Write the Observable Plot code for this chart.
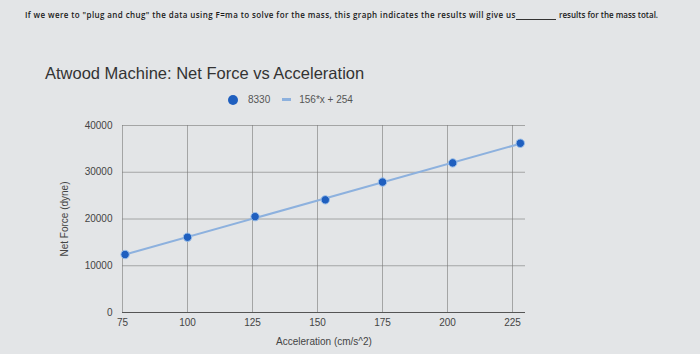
<!DOCTYPE html>
<html>
<head>
<meta charset="utf-8">
<script src="https://cdn.jsdelivr.net/npm/d3@7"></script>
<script src="https://cdn.jsdelivr.net/npm/@observablehq/plot@0.6"></script>
<style>
  body { margin:0; width:700px; height:354px; overflow:hidden; background:#e3e5e7; font-family:"Liberation Sans", Arial, sans-serif; position:relative; }
  .abs { position:absolute; white-space:nowrap; }
  #q1, #q2 { top:9px; font-family:"Open Sans", sans-serif; font-weight:600; font-size:8px; color:#1a1a1a; }
  #q1 { left:25px; letter-spacing:0.4px; }
  #q2 { left:559px; }
  #blank { left:516px; top:19px; width:40px; border-top:1px solid #333; height:0; }
  #title { left:45px; top:64px; font-size:16.5px; color:#333; }
  #legend { left:228px; top:94px; font-size:10px; color:#555; display:flex; align-items:center; }
  #chart { position:absolute; left:0; top:110px; }
</style>
</head>
<body>
<div class="abs" id="q1">If we were to "plug and chug" the data using F=ma to solve for the mass, this graph indicates the results will give us</div>
<div class="abs" id="blank"></div>
<div class="abs" id="q2">results for the mass total.</div>
<div class="abs" id="title">Atwood Machine: Net Force vs Acceleration</div>
<div class="abs" id="legend"></div>
<div id="chart"></div>
<script>
const seriesName = "8330";
const trendLabel = "156*x + 254";
const acceleration = [76, 100, 126, 153, 175, 202, 228];
const netForce = [12400, 16100, 20500, 24100, 27900, 32000, 36200];
const xTicks = [75, 100, 125, 150, 175, 200, 225];
const yTicks = [0, 10000, 20000, 30000, 40000];

const data = acceleration.map((a, i) => ({a, f: netForce[i]}));
const dotColor = "#1f5fbf";
const lineColor = "#8db1de";

const legend = document.getElementById("legend");
legend.innerHTML = `<span style="display:inline-block;width:10px;height:10px;border-radius:50%;background:${dotColor};margin-right:10px"></span>` +
  `<span>${seriesName}</span>` +
  `<span style="display:inline-block;width:9px;height:3px;background:${lineColor};margin:0 8px 0 12px"></span>` +
  `<span>${trendLabel}</span>`;

const chart = Plot.plot({
  width: 700,
  height: 244,
  marginLeft: 122,
  marginRight: 175,
  marginTop: 15,
  marginBottom: 42,
  style: {background: "transparent", fontFamily: "Liberation Sans, Arial, sans-serif", fontSize: "10px", color: "#444"},
  x: {domain: [75, 230], ticks: xTicks, tickSize: 0, tickPadding: 6, label: "Acceleration (cm/s^2)", labelAnchor: "center", labelArrow: "none", labelOffset: 32},
  y: {domain: [0, 40000], ticks: yTicks, tickSize: 0, tickPadding: 10, tickFormat: d3.format("d"), label: "Net Force (dyne)", labelAnchor: "center", labelArrow: "none", labelOffset: 62},
  marks: [
    Plot.gridX(xTicks, {stroke: "#7a7a7a", strokeOpacity: 0.6}),
    Plot.gridY(yTicks, {stroke: "#7a7a7a", strokeOpacity: 0.6, x1: 75, x2: 230}),
    Plot.ruleY([0], {stroke: "#555", strokeWidth: 1}),
    Plot.linearRegressionY(data, {x: "a", y: "f", stroke: lineColor, strokeWidth: 2, ci: 0}),
    Plot.dot(data, {x: "a", y: "f", r: 4.2, fill: dotColor, stroke: "#9cc0ea", strokeWidth: 1})
  ]
});
document.getElementById("chart").appendChild(chart);
</script>
</body>
</html>
